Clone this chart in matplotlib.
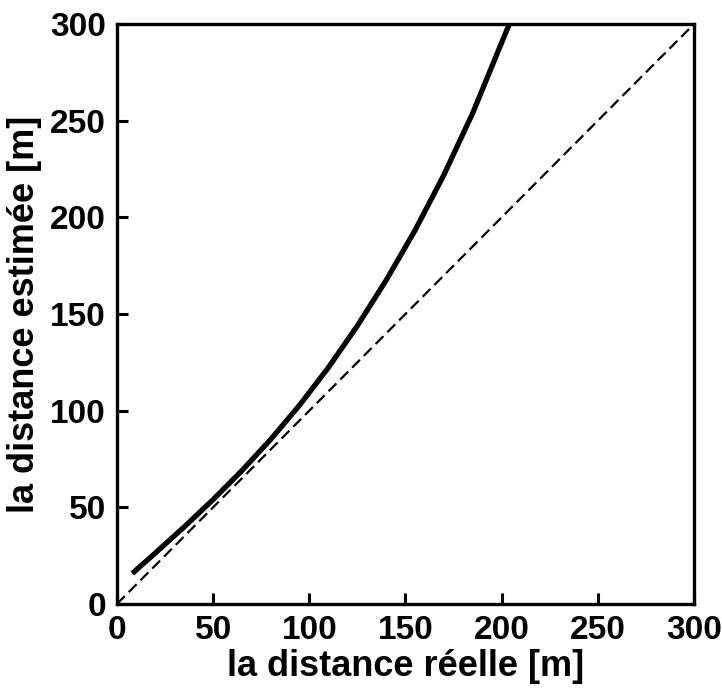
import numpy as np
import matplotlib
matplotlib.use("Agg")
import matplotlib.pyplot as plt

plt.rcParams['font.family'] = ['Liberation Sans', 'DejaVu Sans']
plt.rcParams['font.weight'] = 'bold'

real = [8, 20, 35, 50, 65, 80, 95, 110, 125, 140, 155, 170, 185, 204]
estimated = [15.8, 26.4, 39.9, 54.0, 69.0, 85.2, 102.9, 122.4, 143.9, 167.5,
             193.3, 222, 254, 300]
diag = [0, 300]
ticks = [0, 50, 100, 150, 200, 250, 300]

fig = plt.figure(figsize=(7.22, 6.91), dpi=100)
ax = fig.add_axes([0.162, 0.126, 0.799, 0.839])

ax.plot(diag, diag, color='black', lw=1.6, ls=(0, (5, 2.5)))
ax.plot(real, estimated, color='black', lw=3.8, solid_capstyle='butt',
        solid_joinstyle='round')

ax.set_xlim(0, 300)
ax.set_ylim(0, 300)
ax.set_xticks(ticks)
ax.set_yticks(ticks)
ax.tick_params(direction='in', length=8, width=2.2, labelsize=24, pad=8,
               top=False, right=False)
for lab in ax.get_xticklabels() + ax.get_yticklabels():
    lab.set_fontweight('bold')
for s in ax.spines.values():
    s.set_linewidth(2.4)

ax.set_xlabel('la distance réelle [m]', fontsize=26, fontweight='bold', labelpad=2)
ax.set_ylabel('la distance estimée [m]', fontsize=26, fontweight='bold', labelpad=6)

fig.savefig('out.png', dpi=100)
